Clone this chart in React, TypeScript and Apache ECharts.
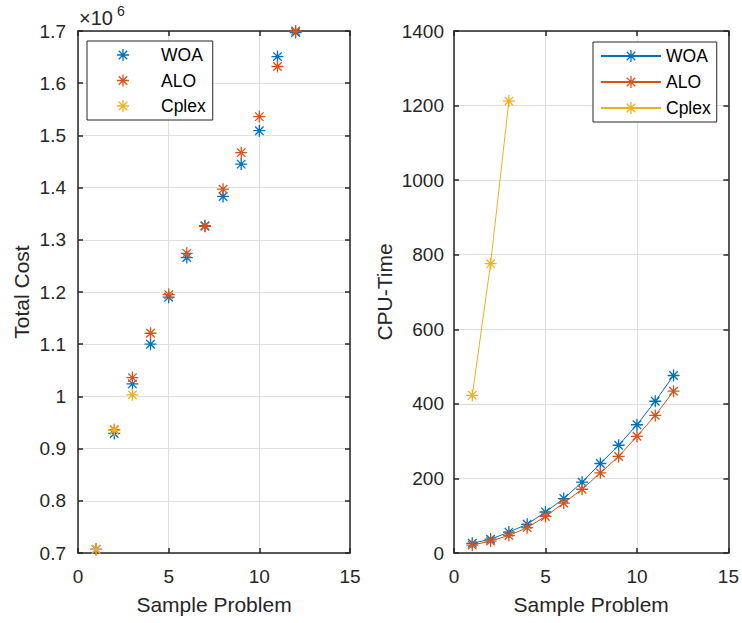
import React, { useEffect, useRef } from "react";
import * as echarts from "echarts";

// ---- data ----
const problems = [1, 2, 3, 4, 5, 6, 7, 8, 9, 10, 11, 12];
const cplexProblems = [1, 2, 3];
// Total cost (x 10^6)
const woaCost = [0.707, 0.929, 1.024, 1.1, 1.19, 1.266, 1.327, 1.383, 1.445, 1.509, 1.651, 1.697];
const aloCost = [0.707, 0.936, 1.036, 1.121, 1.195, 1.274, 1.326, 1.397, 1.467, 1.536, 1.632, 1.7];
const cplexCost = [0.707, 0.935, 1.003];
// CPU time
const woaTime = [26, 37, 56, 77, 110, 146, 190, 240, 289, 344, 407, 476];
const aloTime = [21, 32, 47, 68, 98, 134, 171, 215, 259, 313, 369, 434];
const cplexTime = [423, 776, 1212];

const seriesNames = ["WOA", "ALO", "Cplex"];
const xTitle = "Sample Problem";
const yTitleLeft = "Total Cost";
const yTitleRight = "CPU-Time";

const COLORS = ["#0072BD", "#D95319", "#EDB120"];
const AX = "#262626";
const GRIDC = "#dfdfdf";
const FONT = "'Liberation Sans', Arial, Helvetica, sans-serif";
const STAR =
  "path://M0 5.35H12V6.65H0Z M5.35 0H6.65V12H5.35Z M2.22 1.3L10.7 9.78L9.78 10.7L1.3 2.22Z M9.78 1.3L10.7 2.22L2.22 10.7L1.3 9.78Z";

const pairs = (xs: number[], ys: number[]) => xs.map((x, i) => [x, ys[i]]);

function xAxisDef(gridIndex: number, main: boolean) {
  return {
    type: "value",
    gridIndex,
    min: 0,
    max: 15,
    interval: 5,
    position: main ? "bottom" : "top",
    axisLine: { show: true, onZero: false, lineStyle: { color: AX, width: 1.5 } },
    axisTick: { show: true, inside: true, length: 5, lineStyle: { color: AX, width: 1.5 } },
    axisLabel: { show: main, margin: 14, color: AX, fontSize: 19, fontFamily: FONT },
    splitLine: { show: main, lineStyle: { color: GRIDC, width: 1 } },
    name: main ? xTitle : "",
    nameLocation: "middle",
    nameGap: 41,
    nameTextStyle: { fontSize: 21, color: AX, fontFamily: FONT },
  };
}

function yAxisDef(
  gridIndex: number,
  main: boolean,
  min: number,
  max: number,
  interval: number,
  name: string,
  nameGap: number,
  margin: number,
  fmt: (v: number) => string
) {
  return {
    type: "value",
    gridIndex,
    min,
    max,
    interval,
    position: main ? "left" : "right",
    axisLine: { show: true, onZero: false, lineStyle: { color: AX, width: 1.5 } },
    axisTick: { show: true, inside: true, length: 5, lineStyle: { color: AX, width: 1.5 } },
    axisLabel: {
      show: main,
      margin,
      color: AX,
      fontSize: 19,
      fontFamily: FONT,
      formatter: fmt,
    },
    splitLine: { show: main, lineStyle: { color: GRIDC, width: 1 } },
    name: main ? name : "",
    nameLocation: "middle",
    nameGap,
    nameTextStyle: { fontSize: 21, color: AX, fontFamily: FONT },
  };
}

export default function App() {
  const ref = useRef<HTMLDivElement>(null);
  useEffect(() => {
    if (!ref.current) return;
    const chart = echarts.init(ref.current, undefined, { renderer: "svg" });
    const costFmt = (v: number) => String(Math.round(v * 10) / 10);
    const timeFmt = (v: number) => String(Math.round(v));
    const costData = [woaCost, aloCost, cplexCost];
    const costX = [problems, problems, cplexProblems];
    const timeData = [woaTime, aloTime, cplexTime];
    const scatterSeries = seriesNames.map((n, i) => ({
      type: "scatter",
      name: n,
      xAxisIndex: 0,
      yAxisIndex: 0,
      data: pairs(costX[i], costData[i]),
      symbol: STAR,
      symbolSize: 12,
      itemStyle: { color: COLORS[i], borderWidth: 0, opacity: 1 },
      z: 3 + i,
    }));
    const lineSeries = seriesNames.map((n, i) => ({
      type: "line",
      name: n + " ",
      xAxisIndex: 2,
      yAxisIndex: 2,
      data: pairs(costX[i], timeData[i]),
      symbol: STAR,
      symbolSize: 12,
      showSymbol: true,
      lineStyle: { color: COLORS[i], width: 1 },
      itemStyle: { color: COLORS[i], borderWidth: 0 },
      z: 3 + i,
    }));
    chart.setOption({
      animation: false,
      backgroundColor: "#ffffff",
      textStyle: { fontFamily: FONT },
      grid: [
        { left: 78, right: 392, top: 31, bottom: 70 },
        { left: 454, right: 13.5, top: 31, bottom: 70 },
      ],
      xAxis: [xAxisDef(0, true), xAxisDef(0, false), xAxisDef(1, true), xAxisDef(1, false)],
      yAxis: [
        yAxisDef(0, true, 0.7, 1.7, 0.1, yTitleLeft, 46, 12, costFmt),
        yAxisDef(0, false, 0.7, 1.7, 0.1, "", 0, 0, costFmt),
        yAxisDef(1, true, 0, 1400, 200, yTitleRight, 59, 10, timeFmt),
        yAxisDef(1, false, 0, 1400, 200, "", 0, 0, timeFmt),
      ],
      legend: [
        {
          data: seriesNames,
          orient: "vertical",
          left: 87,
          top: 41,
          itemWidth: 12,
          itemHeight: 12,
          itemGap: 7.5,
          padding: [5, 7, 5, 30],
          borderColor: AX,
          borderWidth: 1,
          backgroundColor: "#ffffff",
          selectedMode: false,
          textStyle: { fontSize: 17.5, color: "#000", fontFamily: FONT, padding: [0, 0, 0, 27] },
        },
        {
          data: seriesNames.map((n) => n + " "),
          orient: "vertical",
          left: 593,
          top: 42,
          itemWidth: 60,
          itemHeight: 15,
          itemGap: 8,
          padding: [5, 6, 5, 7],
          borderColor: AX,
          borderWidth: 1,
          backgroundColor: "#ffffff",
          selectedMode: false,
          formatter: (n: string) => n.trim(),
          textStyle: { fontSize: 17.5, color: "#000", fontFamily: FONT },
        },
      ],
      graphic: [
        {
          type: "text",
          x: 79,
          y: 8,
          style: {
            text: "×10",
            font: "20px 'Liberation Sans', Arial, sans-serif",
            fill: AX,
            verticalAlign: "top",
            align: "left",
          },
        },
        {
          type: "text",
          x: 117,
          y: 4,
          style: {
            text: "6",
            font: "14px 'Liberation Sans', Arial, sans-serif",
            fill: AX,
            verticalAlign: "top",
            align: "left",
          },
        },
      ],
      series: [...scatterSeries, ...lineSeries],
    });
    return () => chart.dispose();
  }, []);
  return (
    <div
      ref={ref}
      style={{ position: "fixed", left: 0, top: 0, width: 742, height: 623, background: "#fff" }}
    />
  );
}
